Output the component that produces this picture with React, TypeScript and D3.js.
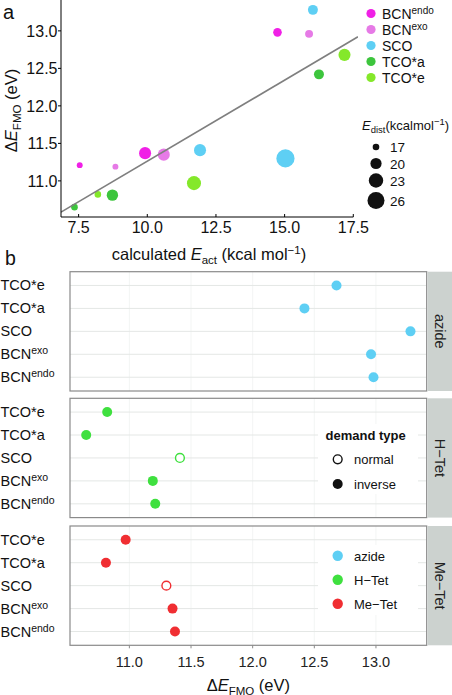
import React from 'react';
import * as d3 from 'd3';

// ---------- data ----------
const dienophiles = ['BCNendo', 'BCNexo', 'SCO', 'TCO*a', 'TCO*e'];
const dienes = ['azide', 'H-Tet', 'Me-Tet'];
// ΔE_FMO (eV), one value per dienophile
const dEFMO_azide = [12.98, 12.96, 13.28, 12.42, 12.68];
const dEFMO_HTet = [11.21, 11.19, 11.41, 10.65, 10.82];
const dEFMO_MeTet = [11.37, 11.35, 11.3, 10.81, 10.97];
// calculated E_act (kcal/mol)
const Eact_azide = [14.74, 15.89, 16.03, 16.25, 17.18];
const Eact_HTet = [7.54, 8.84, 11.92, 7.35, 8.2];
const Eact_MeTet = [9.92, 10.6, 15.03, 8.73, 11.7];
// E_dist (kcal/mol)
const Edist_azide = [18.1, 17.7, 19.0, 19.0, 20.7];
const Edist_HTet = [16.7, 16.7, 20.7, 17.0, 17.0];
const Edist_MeTet = [20.7, 20.7, 27.5, 20.1, 22.6];
// demand type
const demand_azide = ['inverse', 'inverse', 'inverse', 'inverse', 'inverse'];
const demand_HTet = ['inverse', 'inverse', 'normal', 'inverse', 'inverse'];
const demand_MeTet = ['inverse', 'inverse', 'normal', 'inverse', 'inverse'];

const sizeLegendValues = [17, 20, 23, 26];
const xTicksA = [7.5, 10.0, 12.5, 15.0, 17.5];
const yTicksA = [11.0, 11.5, 12.0, 12.5, 13.0];
const xTicksB = [11.0, 11.5, 12.0, 12.5, 13.0];

const dienophileColors = ['#f020e6', '#e67ae6', '#5ecff4', '#3dc53d', '#84e82a'];
const dieneColors = ['#5ecff4', '#3fe03f', '#f02e32'];

// ---------- helpers ----------
const FONT = '"Liberation Sans", Arial, Helvetica, sans-serif';

function T(props: any) {
  const { x, y, anchor = 'start', size = 14, fill = '#111', weight, rotate, children } = props;
  const tr = rotate !== undefined ? `translate(${x},${y}) rotate(${rotate})` : `translate(${x},${y})`;
  return (
    <text transform={tr} textAnchor={anchor} fontSize={size} fill={fill} fontFamily={FONT} fontWeight={weight}>
      {children}
    </text>
  );
}

function DieLabel({ name, sup = 10.5 }: { name: string; sup?: number }) {
  if (name.startsWith('BCN')) {
    return (<>
      <tspan>BCN</tspan>
      <tspan fontSize={sup} dy={-5}>{name.slice(3)}</tspan>
    </>);
  }
  return <tspan>{name}</tspan>;
}

const fmt1 = d3.format('.1f');
const expand = (ext: any) => { const [a, b] = ext; const p = (b - a) * 0.05; return [a - p, b + p]; };

export default function App() {
  const W = 452, H = 695;

  const dE = [dEFMO_azide, dEFMO_HTet, dEFMO_MeTet];
  const Ea = [Eact_azide, Eact_HTet, Eact_MeTet];
  const Ed = [Edist_azide, Edist_HTet, Edist_MeTet];
  const dm = [demand_azide, demand_HTet, demand_MeTet];

  const points = dienes.flatMap((dn, j) => dienophiles.map((dp, i) => ({
    diene: dn, dj: j, dienophile: dp, di: i,
    dE: dE[j][i], eact: Ea[j][i], edist: Ed[j][i], demand: dm[j][i],
  })));

  // ---------- panel a ----------
  const aL = 61, aR = 358, aT = 0, aB = 217;
  const xA = d3.scaleLinear().domain(expand(d3.extent(points, p => p.eact))).range([aL, aR]);
  const yA = d3.scaleLinear().domain(expand(d3.extent(points, p => p.dE))).range([aB, aT]);
  const sq = d3.scaleLinear().domain([Math.sqrt(1.5), Math.sqrt(10.5)]).range([3.3, 8.5]);
  const rOf = (e: number) => sq(Math.sqrt(Math.max(0, e - 15.5)));

  const mx = d3.mean(points, p => p.eact)!;
  const my = d3.mean(points, p => p.dE)!;
  const sxy = d3.sum(points, p => (p.eact - mx) * (p.dE - my));
  const sxx = d3.sum(points, p => (p.eact - mx) ** 2);
  const slope = sxy / sxx;
  const icpt = my - slope * mx;
  const [lx0, lx1] = xA.domain();
  const line = d3.line<number>().x(v => xA(v)).y(v => yA(icpt + slope * v));

  const sortedA = [...points].sort((a, b) => b.edist - a.edist);

  // ---------- panel b ----------
  const bL = 70, bR = 426.7, stripL = 427.5, stripR = 452;
  const bTops = [271.7, 398.3, 526];
  const bH = 119.3;
  const xB = d3.scaleLinear().domain(expand(d3.extent(points, p => p.dE))).range([bL, bR]);
  const rowOrder = dienophiles; // bottom -> top
  const yB = (top: number) => d3.scalePoint<string>().domain(rowOrder).range([top + bH, top]).padding(0.6);

  const TITLE = 16.5;

  return (
    <svg width={W} height={H} style={{ position: 'absolute', left: 0, top: 0, background: '#fff' }}>
      <rect x={0} y={0} width={W} height={H} fill="#fff" />
      <defs>
        <clipPath id="clipA"><rect x={aL} y={aT} width={aR - aL} height={aB - aT} /></clipPath>
      </defs>

      {/* ---- panel a ---- */}
      <T x={3} y={18.5} size={20}>a</T>
      <g clipPath="url(#clipA)">
        {sortedA.map((p, k) => (
          <circle key={k} cx={xA(p.eact)} cy={yA(p.dE)} r={rOf(p.edist)} fill={dienophileColors[p.di]} />
        ))}
        <path d={line([lx0, lx1]) || ''} stroke="#7f7f7f" strokeWidth={1.6} fill="none" />
      </g>
      {/* axes */}
      <line x1={aL} x2={aL} y1={aT} y2={aB} stroke="#000" strokeWidth={1} />
      <line x1={aL} x2={xA(17.5)} y1={aB} y2={aB} stroke="#000" strokeWidth={1} />
      {yTicksA.map(t => (
        <g key={t}>
          <line x1={aL - 3} x2={aL} y1={yA(t)} y2={yA(t)} stroke="#000" />
          <T x={57.5} y={yA(t) + 5.8} anchor="end" size={16}>{fmt1(t)}</T>
        </g>
      ))}
      {xTicksA.map(t => (
        <g key={t}>
          <line x1={xA(t)} x2={xA(t)} y1={aB} y2={aB - 3} stroke="#000" />
          <T x={xA(t)} y={233} anchor="middle" size={16}>{fmt1(t)}</T>
        </g>
      ))}
      <T x={17} y={(aT + aB) / 2 + 2} rotate={-90} anchor="middle" size={TITLE}>
        <tspan>Δ</tspan><tspan fontStyle="italic">E</tspan>
        <tspan fontSize={11.5} dy={3.5}>FMO</tspan>
        <tspan dy={-3.5}> (eV)</tspan>
      </T>
      <T x={209} y={260} anchor="middle" size={TITLE}>
        <tspan>calculated </tspan><tspan fontStyle="italic">E</tspan>
        <tspan fontSize={11.5} dy={3.5}>act</tspan>
        <tspan dy={-3.5}> (kcal mol</tspan>
        <tspan fontSize={11.5} dy={-6}>−1</tspan>
        <tspan dy={6}>)</tspan>
      </T>

      {/* legend a: colour */}
      {dienophiles.map((d, i) => (
        <g key={d}>
          <circle cx={371} cy={13.5 + i * 16} r={4.6} fill={dienophileColors[i]} />
          <T x={382} y={13.5 + i * 16 + 5} size={14}><DieLabel name={d} sup={10} /></T>
        </g>
      ))}
      {/* legend a: size */}
      <T x={362} y={130} size={13}>
        <tspan fontStyle="italic">E</tspan>
        <tspan fontSize={9.5} dy={3}>dist</tspan>
        <tspan dy={-3}>(kcalmol</tspan>
        <tspan fontSize={9.5} dy={-5}>−1</tspan>
        <tspan dy={5}>)</tspan>
      </T>
      {sizeLegendValues.map((v, i) => {
        const cy = [147, 163.5, 180.5, 200.5][i];
        return (
          <g key={v}>
            <circle cx={376} cy={cy} r={rOf(v)} fill="#111" />
            <T x={390} y={cy + 5} size={13.5}>{v}</T>
          </g>
        );
      })}

      {/* ---- panel b ---- */}
      <T x={5} y={265} size={19.5}>b</T>
      {dienes.map((dn, j) => {
        const top = bTops[j];
        const y = yB(top);
        const pts = points.filter(p => p.dj === j);
        return (
          <g key={dn}>
            <rect x={bL} y={top} width={bR - bL} height={bH} fill="#fff" />
            {xTicksB.map(t => (
              <line key={t} x1={xB(t)} x2={xB(t)} y1={top} y2={top + bH} stroke="#f0f2f1" strokeWidth={0.8} />
            ))}
            {rowOrder.map(r => (
              <line key={r} x1={bL} x2={bR} y1={y(r)!} y2={y(r)!} stroke="#e4e7e5" strokeWidth={1} />
            ))}
            {pts.map((p, k) => p.demand === 'normal'
              ? <circle key={k} cx={xB(p.dE)} cy={y(p.dienophile)!} r={4.4} fill="#fff" stroke={dieneColors[j]} strokeWidth={1.4} />
              : <circle key={k} cx={xB(p.dE)} cy={y(p.dienophile)!} r={5} fill={dieneColors[j]} />)}
            <rect x={bL} y={top} width={bR - bL} height={bH} fill="none" stroke="#8a8a8a" strokeWidth={1.2} />
            <rect x={stripL} y={top} width={stripR - stripL} height={bH} fill="#ccd2cf" />
            <T x={(stripL + stripR) / 2 - 5} y={top + bH / 2} rotate={90} anchor="middle" fill="#222" size={14.5}>{dn === 'H-Tet' ? 'H−Tet' : dn === 'Me-Tet' ? 'Me−Tet' : dn}</T>
            {rowOrder.map(r => (
              <T key={r} x={0.5} y={y(r)! + 5} size={14.5}><DieLabel name={r} sup={10.5} /></T>
            ))}
          </g>
        );
      })}
      {/* x axis b */}
      {xTicksB.map(t => (
        <g key={t}>
          <line x1={xB(t)} x2={xB(t)} y1={bTops[2] + bH} y2={bTops[2] + bH + 3} stroke="#8a8a8a" />
          <T x={xB(t)} y={667} anchor="middle" fill="#222" size={14.5}>{fmt1(t)}</T>
        </g>
      ))}
      <T x={(bL + bR) / 2} y={691} anchor="middle" size={TITLE}>
        <tspan>Δ</tspan><tspan fontStyle="italic">E</tspan>
        <tspan fontSize={11.5} dy={3.5}>FMO</tspan>
        <tspan dy={-3.5}> (eV)</tspan>
      </T>

      {/* legend b: demand type */}
      <rect x={318} y={424} width={100} height={70} fill="#fff" />
      <T x={325.5} y={440} weight="bold" size={13}>demand type</T>
      <circle cx={337.7} cy={459.3} r={4.4} fill="#fff" stroke="#111" strokeWidth={1.4} />
      <T x={354} y={464} size={13}>normal</T>
      <circle cx={337.7} cy={484} r={5} fill="#111" />
      <T x={354} y={488.5} size={13}>inverse</T>
      {/* legend b: diene colour */}
      <rect x={318} y={545} width={100} height={70} fill="#fff" />
      {dienes.map((dn, j) => (
        <g key={dn}>
          <circle cx={337.7} cy={555.7 + j * 24} r={5.2} fill={dieneColors[j]} />
          <T x={354} y={555.7 + j * 24 + 5} size={13}>{dn === 'H-Tet' ? 'H−Tet' : dn === 'Me-Tet' ? 'Me−Tet' : dn}</T>
        </g>
      ))}
    </svg>
  );
}
